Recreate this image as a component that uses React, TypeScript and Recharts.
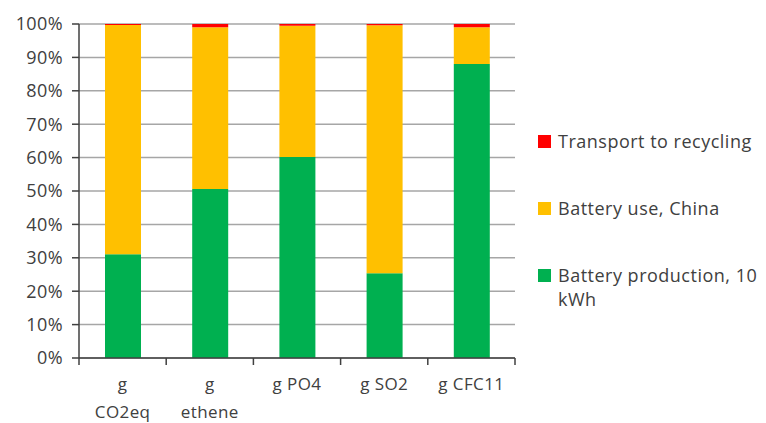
import React from 'react';
import { BarChart, Bar, XAxis, YAxis, CartesianGrid } from 'recharts';

const categories = ['g\nCO2eq', 'g\nethene', 'g PO4', 'g SO2', 'g CFC11'];
const production = [31.1, 50.6, 60.2, 25.4, 88.0];
const use = [68.6, 48.4, 39.3, 74.2, 11.0];
const transport = [0.3, 1.0, 0.5, 0.4, 1.0];
const yTicks = [0, 10, 20, 30, 40, 50, 60, 70, 80, 90, 100];

const seriesNames = {
    production: 'Battery production, 10 kWh',
    use: 'Battery use, China',
    transport: 'Transport to recycling',
};

const data = categories.map((name, i) => ({
    name,
    production: production[i],
    use: use[i],
    transport: transport[i],
}));

const W = 766;
const H = 423;
const MARGIN = { top: 24, right: 251, bottom: 0, left: 0 };
const Y_AXIS_W = 79;
const X_AXIS_H = 65;
const BAND = (W - MARGIN.left - MARGIN.right - Y_AXIS_W) / categories.length;
const FONT = '"Open Sans", sans-serif';
const TEXT = '#404040';

// category label, split on '\n', with tick marks on the band edges
function CategoryTick(props: any) {
    const { x, y, payload, index } = props;
    const lines: string[] = String(payload.value).split('\n');
    return (
        <g>
            <line x1={x + BAND / 2} x2={x + BAND / 2} y1={y - 8} y2={y - 1} stroke={TEXT} strokeWidth={1.5} />
            {index === 0 && (
                <line x1={x - BAND / 2} x2={x - BAND / 2} y1={y - 8} y2={y - 1} stroke={TEXT} strokeWidth={1.5} />
            )}
            {lines.map((ln, k) => (
                <text key={k} x={x} y={y + 24 + k * 28} textAnchor="middle" fontSize={17} letterSpacing={0.4} fontFamily={FONT} fill={TEXT}>
                    {ln}
                </text>
            ))}
        </g>
    );
}

const legendItems = [
    { color: '#FF0000', lines: ['Transport to recycling'] },
    { color: '#FFC000', lines: ['Battery use, China'] },
    { color: '#00B050', lines: ['Battery production, 10', 'kWh'] },
];

function SideLegend() {
    return (
        <div style={{ position: 'absolute', left: 538, top: 129, fontFamily: FONT, fontSize: 18, letterSpacing: 0.5, color: TEXT }}>
            {legendItems.map((it, i) => (
                <div key={i} style={{ display: 'flex', alignItems: 'flex-start', marginBottom: i < 2 ? 43 : 0 }}>
                    <div style={{ width: 13, height: 13, background: it.color, marginTop: 6, marginRight: 7, flexShrink: 0 }} />
                    <div style={{ lineHeight: '24px', whiteSpace: 'nowrap' }}>
                        {it.lines.map((l, k) => (
                            <div key={k}>{l}</div>
                        ))}
                    </div>
                </div>
            ))}
        </div>
    );
}

export default function App() {
    return (
        <div style={{ position: 'absolute', left: 0, top: 0, width: W, height: H, background: '#fff' }}>
            <BarChart width={W} height={H} data={data} margin={MARGIN} barSize={36}>
                <CartesianGrid vertical={false} stroke="#a6a6a6" strokeWidth={1.5} />
                <XAxis
                    dataKey="name"
                    height={X_AXIS_H}
                    interval={0}
                    axisLine={{ stroke: TEXT, strokeWidth: 1.5 }}
                    tickLine={false}
                    tick={<CategoryTick />}
                />
                <YAxis
                    width={Y_AXIS_W}
                    domain={[0, 100]}
                    ticks={yTicks}
                    tickFormatter={(v: number) => `${v}%`}
                    axisLine={{ stroke: TEXT, strokeWidth: 1.5 }}
                    tickLine={{ stroke: TEXT, strokeWidth: 1.5 }}
                    tickSize={7}
                    tickMargin={9}
                    tick={{ fill: TEXT, fontSize: 18, letterSpacing: 0.4, fontFamily: FONT }}
                />
                <Bar dataKey="production" name={seriesNames.production} stackId="a" fill="#00B050" isAnimationActive={false} />
                <Bar dataKey="use" name={seriesNames.use} stackId="a" fill="#FFC000" isAnimationActive={false} />
                <Bar dataKey="transport" name={seriesNames.transport} stackId="a" fill="#FF0000" isAnimationActive={false} />
            </BarChart>
            <SideLegend />
        </div>
    );
}
